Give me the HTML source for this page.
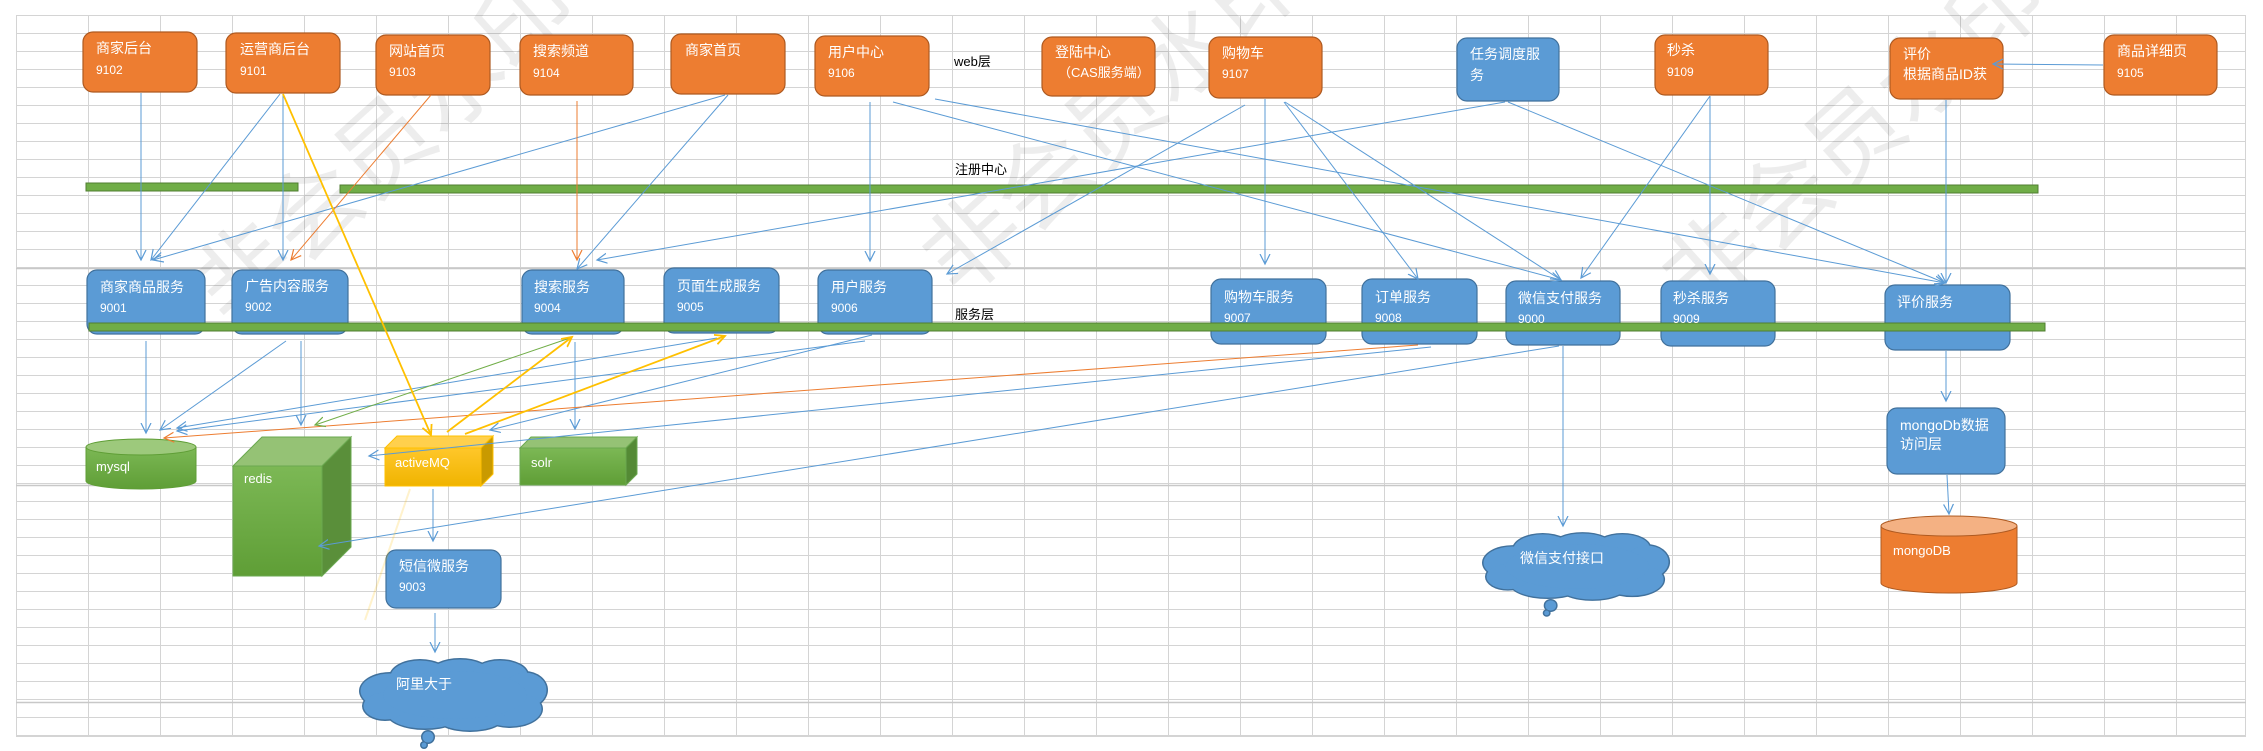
<!DOCTYPE html>
<html><head><meta charset="utf-8"><style>
html,body{margin:0;padding:0;background:#fff;}
svg{display:block;font-family:"Liberation Sans","Noto Sans CJK SC",sans-serif;}
</style></head><body>
<svg width="2263" height="751" viewBox="0 0 2263 751" xmlns="http://www.w3.org/2000/svg">
<defs>
<pattern id="grid" x="16" y="15" width="72" height="18" patternUnits="userSpaceOnUse">
<path d="M0 0.5H72 M0.5 0V18" stroke="#d4d4d4" stroke-width="1" fill="none"/>
</pattern>
<marker id="ab" markerWidth="12" markerHeight="12" refX="10" refY="6" orient="auto" markerUnits="userSpaceOnUse"><path d="M0 1 L10 6 L0 11" fill="none" stroke="#5B9BD5" stroke-width="1.2"/></marker>
<marker id="ao" markerWidth="12" markerHeight="12" refX="10" refY="6" orient="auto" markerUnits="userSpaceOnUse"><path d="M0 1 L10 6 L0 11" fill="none" stroke="#ED7D31" stroke-width="1.2"/></marker>
<marker id="ay" markerWidth="12" markerHeight="12" refX="10" refY="6" orient="auto" markerUnits="userSpaceOnUse"><path d="M0 1 L10 6 L0 11" fill="none" stroke="#FFC000" stroke-width="1.8"/></marker>
<marker id="ag" markerWidth="12" markerHeight="12" refX="10" refY="6" orient="auto" markerUnits="userSpaceOnUse"><path d="M0 1 L10 6 L0 11" fill="none" stroke="#70AD47" stroke-width="1.2"/></marker>
<linearGradient id="gg" x1="0" y1="0" x2="0" y2="1"><stop offset="0" stop-color="#7cb855"/><stop offset="1" stop-color="#5f9e36"/></linearGradient>
<linearGradient id="yg" x1="0" y1="0" x2="0" y2="1"><stop offset="0" stop-color="#ffc72a"/><stop offset="1" stop-color="#f0b400"/></linearGradient>
<g id="cloud">
<g fill="#41719C">
<ellipse cx="30" cy="32" rx="31" ry="19"/><ellipse cx="60" cy="18" rx="31" ry="18"/><ellipse cx="100" cy="14" rx="31" ry="15"/><ellipse cx="140" cy="16" rx="29" ry="16"/><ellipse cx="165" cy="31" rx="23" ry="19"/><ellipse cx="150" cy="50" rx="33" ry="19"/><ellipse cx="110" cy="57" rx="36" ry="16"/><ellipse cx="65" cy="54" rx="39" ry="17"/><ellipse cx="25" cy="47" rx="23" ry="15"/>
<circle cx="68" cy="78" r="7"/><circle cx="64" cy="86" r="4"/></g>
<g fill="#5B9BD5">
<ellipse cx="30" cy="32" rx="29.5" ry="17.5"/><ellipse cx="60" cy="18" rx="29.5" ry="16.5"/><ellipse cx="100" cy="14" rx="29.5" ry="13.5"/><ellipse cx="140" cy="16" rx="27.5" ry="14.5"/><ellipse cx="165" cy="31" rx="21.5" ry="17.5"/><ellipse cx="150" cy="50" rx="31.5" ry="17.5"/><ellipse cx="110" cy="57" rx="34.5" ry="14.5"/><ellipse cx="65" cy="54" rx="37.5" ry="15.5"/><ellipse cx="25" cy="47" rx="21.5" ry="13.5"/>
<ellipse cx="95" cy="36" rx="72" ry="24"/>
<circle cx="68" cy="78" r="5.5"/><circle cx="64" cy="86" r="2.5"/></g>
</g>
</defs>
<rect x="16" y="15" width="2230" height="721" fill="url(#grid)"/>
<path d="M16 736.5H2246 M2245.5 15V736" stroke="#d4d4d4"/>
<path d="M16 268.5H2246 M16 485.5H2246 M16 702.5H2246" stroke="#c8c8c8" stroke-width="1.5"/>

<g fill="#000" fill-opacity="0.07" font-size="95" font-family="'Noto Sans CJK SC',sans-serif">
<text transform="translate(230,330) rotate(-42)">非会员水印</text>
<text transform="translate(960,300) rotate(-42)">非会员水印</text>
<text transform="translate(1700,320) rotate(-42)">非会员水印</text>
</g>

<rect x="86" y="183" width="212" height="8" fill="#70AD47" stroke="#507E32"/>
<rect x="340" y="185" width="1698" height="8" fill="#70AD47" stroke="#507E32"/>

<g fill="#ED7D31" stroke="#AE5A21" stroke-width="1.2">
<rect x="83" y="32" width="114" height="60" rx="10"/>
<rect x="226" y="33" width="114" height="60" rx="10"/>
<rect x="376" y="35" width="114" height="60" rx="10"/>
<rect x="520" y="35" width="113" height="60" rx="10"/>
<rect x="671" y="34" width="114" height="60" rx="10"/>
<rect x="815" y="36" width="114" height="60" rx="10"/>
<rect x="1042" y="37" width="113" height="59" rx="10"/>
<rect x="1209" y="37" width="113" height="61" rx="10"/>
<rect x="1655" y="35" width="113" height="60" rx="10"/>
<rect x="1890" y="38" width="113" height="61" rx="10"/>
<rect x="2104" y="35" width="113" height="60" rx="10"/>
</g>
<rect x="1457" y="38" width="102" height="63" rx="10" fill="#5B9BD5" stroke="#41719C" stroke-width="1.2"/>

<g fill="#5B9BD5" stroke="#41719C" stroke-width="1.2">
<rect x="87" y="270" width="118" height="64" rx="10"/>
<rect x="232" y="270" width="116" height="64" rx="10"/>
<rect x="522" y="270" width="102" height="64" rx="10"/>
<rect x="664" y="268" width="115" height="65" rx="10"/>
<rect x="818" y="270" width="114" height="64" rx="10"/>
<rect x="1211" y="279" width="115" height="65" rx="10"/>
<rect x="1362" y="279" width="115" height="65" rx="10"/>
<rect x="1506" y="281" width="114" height="64" rx="10"/>
<rect x="1661" y="281" width="114" height="65" rx="10"/>
<rect x="1885" y="285" width="125" height="65" rx="10"/>
<rect x="1887" y="408" width="118" height="66" rx="10"/>
<rect x="386" y="550" width="115" height="58" rx="10"/>
</g>
<rect x="89" y="323" width="1956" height="8" fill="#70AD47" stroke="#507E32"/>

<path d="M86 447 V481 A55 8 0 0 0 196 481 V447" fill="url(#gg)" stroke="#5f9e36"/>
<ellipse cx="141" cy="447" rx="55" ry="8" fill="#9dc97c" stroke="#5f9e36"/>
<polygon points="233,466 262,437 351,437 322,466" fill="#95c275" stroke="#6aa84f"/>
<polygon points="322,466 351,437 351,547 322,576" fill="#5a8f3a" stroke="#6aa84f"/>
<rect x="233" y="466" width="89" height="110" fill="url(#gg)" stroke="#6aa84f"/>
<polygon points="385,448 397,436 493,436 481,448" fill="#ffd04d" stroke="#ffc000"/>
<polygon points="481,448 493,436 493,474 481,486" fill="#c99a00" stroke="#ffc000"/>
<rect x="385" y="448" width="96" height="38" fill="url(#yg)" stroke="#ffc000"/>
<polygon points="520,448 531,437 637,437 626,448" fill="#95c275" stroke="#6aa84f"/>
<polygon points="626,448 637,437 637,474 626,485" fill="#548a35" stroke="#6aa84f"/>
<rect x="520" y="448" width="106" height="37" fill="url(#gg)" stroke="#6aa84f"/>
<path d="M1881 526 V583 A68 10 0 0 0 2017 583 V526" fill="#ED7D31" stroke="#AE5A21"/>
<ellipse cx="1949" cy="526" rx="68" ry="10" fill="#F4B183" stroke="#AE5A21"/>
<use href="#cloud" transform="translate(360,659)"/>
<use href="#cloud" transform="translate(1483,533) scale(0.995,0.93)"/>

<g stroke="#5B9BD5" stroke-width="1" fill="none" marker-end="url(#ab)">
<path d="M141 93 L141 260"/>
<path d="M280 94 L151 260"/>
<path d="M283 94 L283 260"/>
<path d="M725 95 L153 260"/>
<path d="M728 95 L577 269"/>
<path d="M870 102 L870 261"/>
<path d="M893 102 L1561 280"/>
<path d="M935 99 L1945 283"/>
<path d="M1505 102 L597 260"/>
<path d="M1245 105 L947 274"/>
<path d="M1265 99 L1265 264"/>
<path d="M1284 102 L1418 279"/>
<path d="M1285 102 L1561 280"/>
<path d="M1508 102 L1945 283"/>
<path d="M1710 96 L1581 278"/>
<path d="M1710 96 L1710 274"/>
<path d="M1946 100 L1946 283"/>
<path d="M2103 65 L1993 64"/>
<path d="M146 341 L146 433"/>
<path d="M286 341 L160 430"/>
<path d="M301 341 L301 425"/>
<path d="M575 342 L575 429"/>
<path d="M717 338 L177 428"/>
<path d="M865 341 L177 431"/>
<path d="M872 335 L490 430"/>
<path d="M1431 347 L369 456"/>
<path d="M1559 346 L319 546"/>
<path d="M1563 346 L1563 526"/>
<path d="M1946 351 L1946 401"/>
<path d="M1947 475 L1949 514"/>
<path d="M433 489 L433 541"/>
<path d="M435 613 L435 652"/>
</g>
<path d="M431 95 L291 260" stroke="#ED7D31" fill="none" marker-end="url(#ao)"/>
<path d="M577 101 L577 260" stroke="#ED7D31" fill="none" marker-end="url(#ao)"/>
<path d="M1418 345 L164 438" stroke="#ED7D31" fill="none" marker-end="url(#ao)"/>
<path d="M570 338 L315 425" stroke="#70AD47" fill="none" marker-end="url(#ag)"/>
<g stroke="#FFC000" stroke-width="1.8" fill="none" marker-end="url(#ay)">
<path d="M283 94 L431 435"/>
<path d="M447 432 L572 337"/>
<path d="M465 434 L725 336"/>
</g>
<path d="M410 489 L365 620" stroke="#FFC000" stroke-opacity="0.2" stroke-width="2"/>

<g fill="#fff" font-size="14">
<text x="96" y="53">商家后台</text><text x="96" y="74" font-size="12">9102</text>
<text x="240" y="54">运营商后台</text><text x="240" y="75" font-size="12">9101</text>
<text x="389" y="56">网站首页</text><text x="389" y="76" font-size="12">9103</text>
<text x="533" y="56">搜索频道</text><text x="533" y="77" font-size="12">9104</text>
<text x="685" y="55">商家首页</text>
<text x="828" y="57">用户中心</text><text x="828" y="77" font-size="12">9106</text>
<text x="1055" y="57">登陆中心</text><text x="1058" y="77" font-size="13">（CAS服务端）</text>
<text x="1222" y="58">购物车</text><text x="1222" y="78" font-size="12">9107</text>
<text x="1470" y="59">任务调度服</text><text x="1470" y="80">务</text>
<text x="1667" y="55">秒杀</text><text x="1667" y="76" font-size="12">9109</text>
<text x="1903" y="59">评价</text><text x="1903" y="79">根据商品ID获</text>
<text x="2117" y="56">商品详细页</text><text x="2117" y="77" font-size="12">9105</text>
<text x="100" y="292">商家商品服务</text><text x="100" y="312" font-size="12">9001</text>
<text x="245" y="291">广告内容服务</text><text x="245" y="311" font-size="12">9002</text>
<text x="534" y="292">搜索服务</text><text x="534" y="312" font-size="12">9004</text>
<text x="677" y="291">页面生成服务</text><text x="677" y="311" font-size="12">9005</text>
<text x="831" y="292">用户服务</text><text x="831" y="312" font-size="12">9006</text>
<text x="1224" y="302">购物车服务</text><text x="1224" y="322" font-size="12">9007</text>
<text x="1375" y="302">订单服务</text><text x="1375" y="322" font-size="12">9008</text>
<text x="1518" y="303">微信支付服务</text><text x="1518" y="323" font-size="12">9000</text>
<text x="1673" y="303">秒杀服务</text><text x="1673" y="323" font-size="12">9009</text>
<text x="1897" y="307">评价服务</text>
<text x="1900" y="430">mongoDb数据</text><text x="1900" y="449">访问层</text>
<text x="399" y="571">短信微服务</text><text x="399" y="591" font-size="12">9003</text>
<text x="96" y="471" font-size="13">mysql</text>
<text x="244" y="483" font-size="13">redis</text>
<text x="395" y="467" font-size="13">activeMQ</text>
<text x="531" y="467" font-size="13">solr</text>
<text x="1893" y="555" font-size="13">mongoDB</text>
<text x="396" y="689">阿里大于</text>
<text x="1520" y="563">微信支付接口</text>
</g>
<g fill="#000" font-size="13">
<text x="954" y="66">web层</text>
<text x="955" y="174">注册中心</text>
<text x="955" y="319">服务层</text>
</g>
</svg>
</body></html>
